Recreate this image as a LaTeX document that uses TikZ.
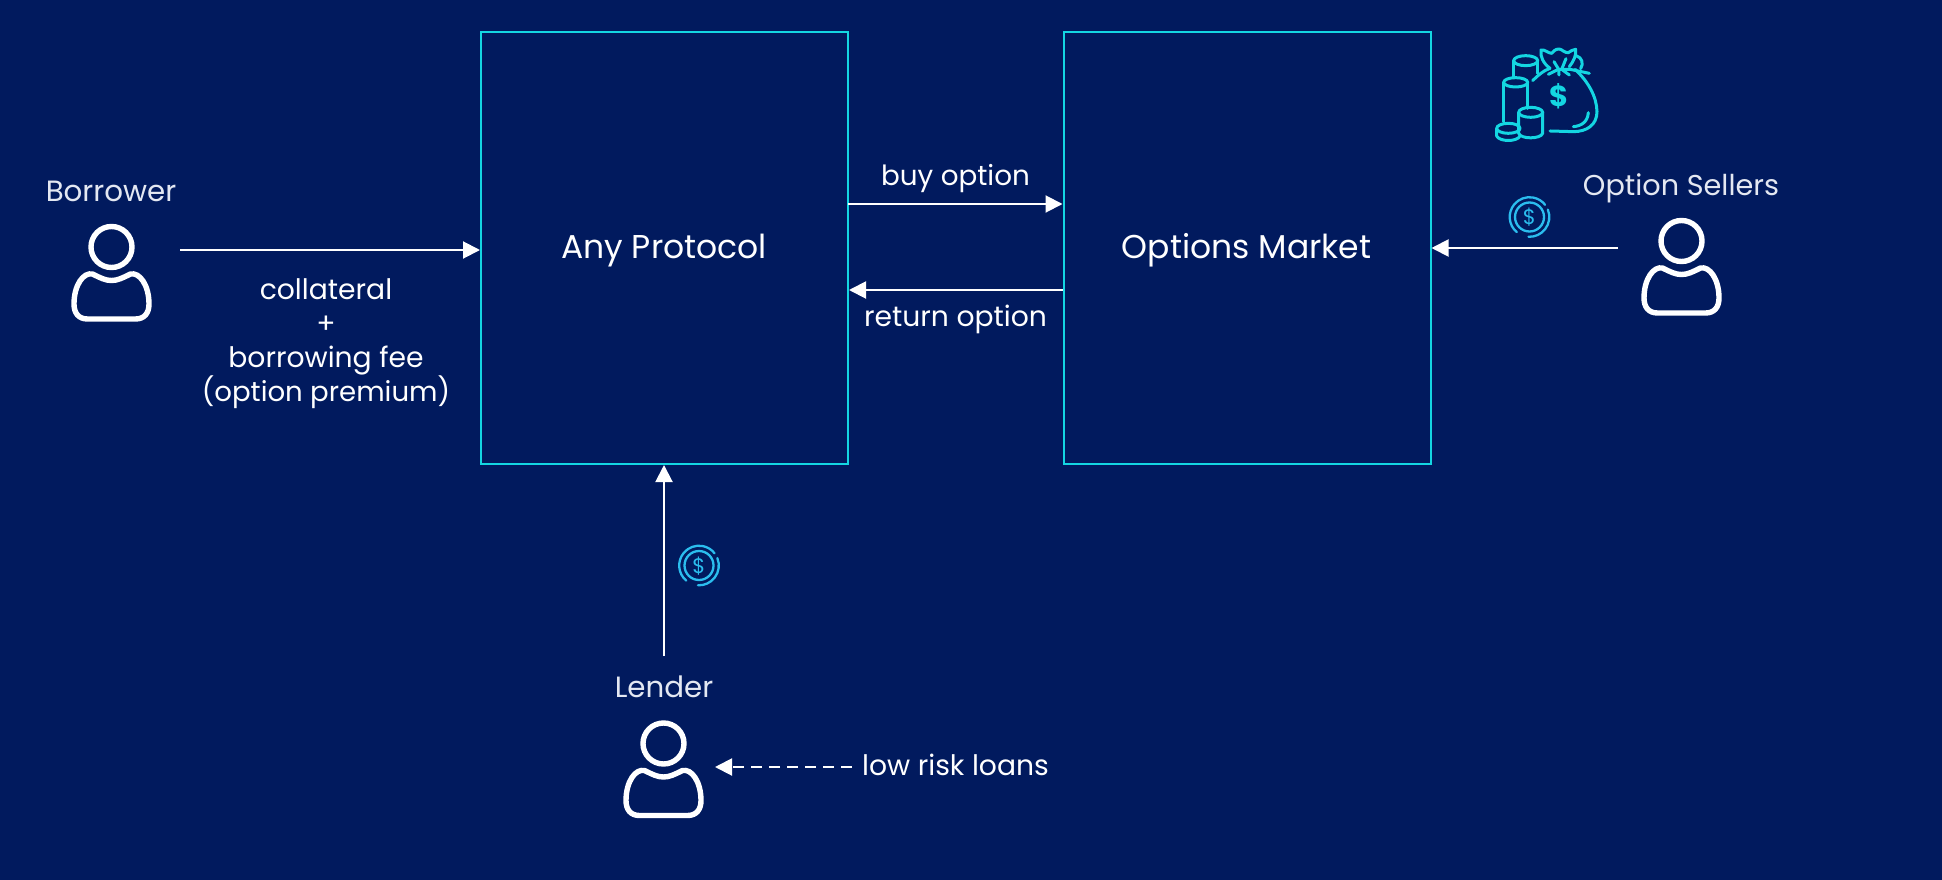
\documentclass[tikz,border=0pt]{standalone}
\usepackage{fontspec}
\setmainfont{Poppins}
\usetikzlibrary{arrows.meta}
\definecolor{bg}{HTML}{011A5E}
\definecolor{boxc}{HTML}{14D6E2}
\definecolor{coinc}{HTML}{2BBDEE}
\definecolor{soft}{HTML}{E4E8F2}
\tikzset{
 x=1pt,y=-1pt,
 panel/.style={draw=boxc,line width=2pt,minimum width=367pt,minimum height=432pt,anchor=north west,inner sep=0pt},
 flow/.style={draw=white,line width=2pt,-{Triangle[length=17pt,width=17pt]}},
 flowd/.style={flow,dash pattern=on 11pt off 7pt},
 big/.style={text=white,font=\fontsize{33}{33}\selectfont,anchor=base},
 lab/.style={text=white,font=\fontsize{28.2}{28.2}\selectfont,anchor=base},
 who/.style={text=soft,font=\fontsize{29.3}{29.3}\selectfont,anchor=base},
 person/.pic={
  \draw[white,line width=5.4pt] (0,0) circle[radius=20.5];
  \draw[white,line width=5.4pt,line join=round]
   (-19,27) .. controls (-11,31) and (-6,33.5) .. (0,33.5) .. controls (6,33.5) and (11,31) .. (19,27)
   .. controls (28,25) and (37.5,38) .. (37.5,57) .. controls (37.5,66) and (33,72) .. (24,72)
   -- (-24,72) .. controls (-33,72) and (-37.5,66) .. (-37.5,57) .. controls (-37.5,38) and (-28,25) .. (-19,27) -- cycle;
 },
 coin/.pic={
  \draw[coinc,line width=2.3pt] (0,0) circle[radius=14.5];
  \draw[coinc,line width=2.3pt,line cap=round] (-22:19.8) arc[start angle=-22,end angle=93,radius=19.8];
  \draw[coinc,line width=2.3pt,line cap=round] (130:19.8) arc[start angle=130,end angle=322,radius=19.8];
  \node[coinc,font=\fontsize{21}{21}\selectfont,inner sep=0pt] at (0,0.5) {\$};
 }
}
\begin{document}
\begin{tikzpicture}
\useasboundingbox (0,0) rectangle (1942,880);
\fill[bg] (0,0) rectangle (1942,880);

\node[panel] (anyp) at (480,31) {};
\node[panel] (optm) at (1062.5,31) {};
\node[big] (anyt) at (664,258) {Any Protocol};
\node[big] (optt) at (1246.5,258) {Options Market};

\pic at (111.5,247) {person};
\pic at (1681.5,241) {person};
\pic at (663.5,743.5) {person};

\node[who] (borrower) at (111,201) {Borrower};
\node[who,font=\fontsize{28.7}{28.7}\selectfont] (sellers) at (1681,195) {Option Sellers};
\node[who] (lender) at (664,697) {Lender};

\node[lab] (c1) at (326,299) {collateral};
\node[lab] (c2) at (326,333) {+};
\node[lab] (c3) at (326,367) {borrowing fee};
\node[lab,font=\fontsize{27.6}{27.6}\selectfont] (c4) at (326,401) {(option premium)};
\node[lab,font=\fontsize{27.8}{27.8}\selectfont] (buy) at (955.5,185) {buy option};
\node[lab] (ret) at (955.5,326) {return option};
\node[lab] (low) at (955.5,775) {low risk loans};

\coordinate (bs) at (180,250);
\coordinate (ss) at (1618,248);
\coordinate (ls) at (664,656);
\coordinate (ds) at (852,767);
\coordinate (de) at (715,767);
\coordinate (by) at (848,204);
\coordinate (ry) at (1063,290);
\draw[flow] (bs) -- (bs -| anyp.west);
\draw[flow] (by) -- (by -| optm.west);
\draw[flow] (ry) -- (ry -| anyp.east);
\draw[flow] (ss) -- (ss -| optm.east);
\draw[flow] (ls) -- (ls |- anyp.south);
\draw[flowd] (ds) -- (de);

\pic at (1529.5,217) {coin};
\pic at (699,565.5) {coin};

\begin{scope}[shift={(1460,20)},x=0.3333pt,y=-0.3333pt,draw=boxc,line width=3pt,line cap=round,line join=round]
 % back cylinder
 \draw (197,122) ellipse[x radius=36,y radius=15];
 \draw (161,122) -- (161,170); \draw (233,122) -- (233,160);
 % tall cylinder
 \draw (167,187) ellipse[x radius=36,y radius=14];
 \draw (131,187) -- (131,305); \draw (203,187) -- (203,265);
 % front cylinder
 \draw (212,277) ellipse[x radius=36,y radius=15];
 \draw (176,277) -- (176,340) .. controls (182,358) and (242,358) .. (248,340) -- (248,277);
 % small coin
 \draw (145,325) ellipse[x radius=35,y radius=15];
 \draw (110,325) -- (110,348) .. controls (118,366) and (172,366) .. (180,348);
 % bag
 \draw (218,182) .. controls (235,165) and (250,152) .. (270,145);
 \draw (345,148) .. controls (385,185) and (410,230) .. (411,275) .. controls (411,315) and (380,335) .. (340,335) -- (270,333);
 \draw (340,320) .. controls (365,318) and (383,305) .. (385,278);
 % tie
 \draw (270,145) .. controls (250,130) and (240,110) .. (243,90) .. controls (255,88) and (265,100) .. (275,100) .. controls (280,95) and (285,87) .. (297,87) .. controls (305,87) and (315,100) .. (325,98) .. controls (332,95) and (338,87) .. (347,88) .. controls (350,105) and (340,125) .. (328,140);
 \draw (350,108) .. controls (365,112) and (372,130) .. (362,146);
 \draw (265,163) -- (295,148) -- (330,148) -- (388,160);
 \draw (282,125) -- (296,148) -- (297,165);
 \draw (318,116) -- (305,148) -- (328,165);
 \node[boxc,font=\bfseries\fontsize{29}{29}\selectfont,inner sep=0pt] at (297,228) {\$};
\end{scope}
\end{tikzpicture}
\end{document}
